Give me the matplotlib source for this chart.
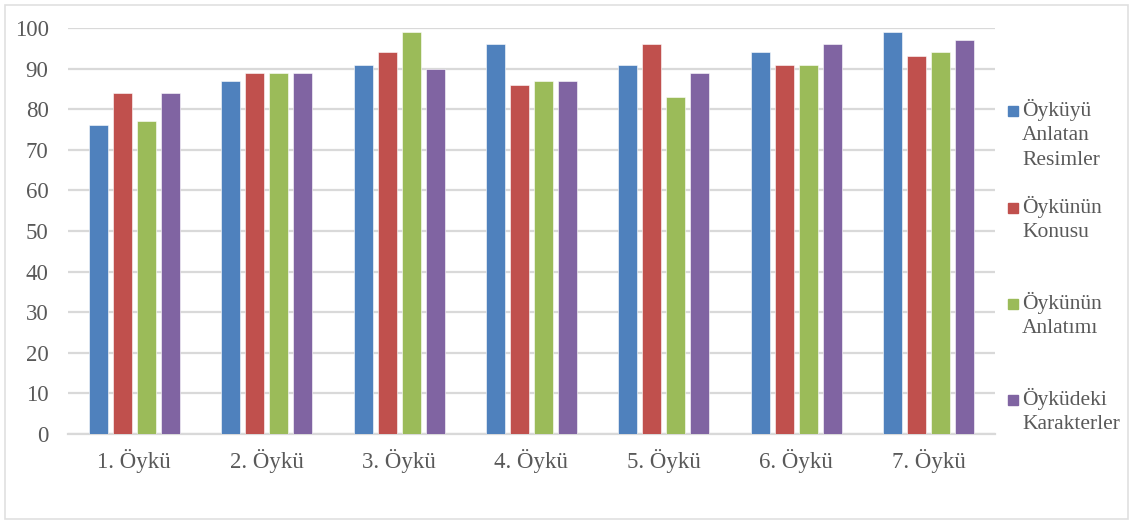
import matplotlib.pyplot as plt
from matplotlib.patches import Rectangle
import numpy as np

# veriler
kategoriler = ['1. Öykü', '2. Öykü', '3. Öykü', '4. Öykü', '5. Öykü', '6. Öykü', '7. Öykü']
resimler = [76, 87, 91, 96, 91, 94, 99]
konu = [84, 89, 94, 86, 96, 91, 93]
anlatim = [77, 89, 99, 87, 83, 91, 94]
karakterler = [84, 89, 90, 87, 89, 96, 97]

seri_adlari = ['Öyküyü\nAnlatan\nResimler', 'Öykünün\nKonusu', 'Öykünün\nAnlatımı', 'Öyküdeki\nKarakterler']
renkler = ['#4F81BD', '#C0504D', '#9BBB59', '#8064A2']
metin_rengi = '#595959'

plt.rcParams['font.family'] = ['Liberation Serif', 'DejaVu Serif']

W, H = 1138, 524
fig = plt.figure(figsize=(W / 100, H / 100), dpi=100)

# dış çerçeve
fig.add_artist(Rectangle((5 / W, 5 / H), 1123 / W, 514 / H, transform=fig.transFigure,
                         fill=False, edgecolor='#E0E0E0', linewidth=1.2))

ax = fig.add_axes([68 / W, 90 / H, 927 / W, 406 / H])

x = np.arange(len(kategoriler))
adim = 0.181
genislik = 0.1435
seriler = [resimler, konu, anlatim, karakterler]
for i, (vals, renk) in enumerate(zip(seriler, renkler)):
    ax.bar(x + (i - 1.5) * adim, vals, width=genislik, color=renk,
           edgecolor='white', linewidth=0.4, zorder=3)

ax.set_xlim(-0.5, len(kategoriler) - 0.5)
ax.set_ylim(0, 100)
ax.set_yticks(range(0, 101, 10))
ax.set_xticks(x)
ax.set_xticklabels(kategoriler)
ax.grid(axis='y', color='#D9D9D9', linewidth=1.6, zorder=0)
for s in ['top', 'right', 'left']:
    ax.spines[s].set_visible(False)
ax.spines['bottom'].set_color('#D9D9D9')
ax.spines['bottom'].set_linewidth(1.6)
ax.tick_params(axis='both', length=0, labelsize=16.5, colors=metin_rengi)
ax.tick_params(axis='y', pad=14)
ax.tick_params(axis='x', pad=11)

# açıklama (legend)
ilk_satirlar = [111, 208, 304, 400]
for ad, renk, yy in zip(seri_adlari, renkler, ilk_satirlar):
    fig.add_artist(Rectangle((1008 / W, (H - yy - 5) / H), 10 / W, 10 / H,
                             transform=fig.transFigure, color=renk))
    fig.text(1022 / W, (H - yy + 12) / H, ad, fontsize=15.5, color=metin_rengi,
             va='top', ha='left', linespacing=1.38)

fig.savefig('out.png', dpi=100)
